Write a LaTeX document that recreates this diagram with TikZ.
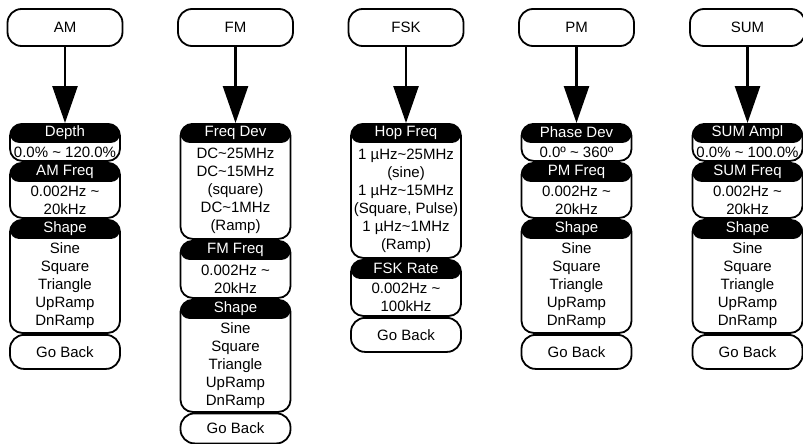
\documentclass[tikz,border=0pt]{standalone}
\usepackage{fontspec}
\setmainfont{Liberation Sans}
\usetikzlibrary{arrows.meta}

\begin{document}
\begin{tikzpicture}[x=1pt, y=-1pt,
	every node/.style = {font=\fontsize{15}{18}\selectfont, align=center},
	modebox/.style = {draw, line width=1.8pt, rounded corners=14pt,
		minimum width=115pt, minimum height=37pt},
	panel/.style = {draw, line width=1.8pt, rounded corners=12pt,
		minimum width=110pt, anchor=north, inner sep=0pt,
		path picture={\fill[rounded corners=9pt]
			([yshift=2pt]path picture bounding box.north west) rectangle
			([yshift=-19pt]path picture bounding box.north east);}},
	backbox/.style = {draw, line width=1.8pt, rounded corners=14pt,
		minimum width=110pt, anchor=north},
	headtext/.style = {text=white, inner sep=0pt},
	feedarrow/.style = {line width=2.6pt, -{Triangle[length=37pt, width=25pt]}}]
	\useasboundingbox (0,0) rectangle (803,444);

	% modes
	\node[modebox] (am) at (65,27.5) {AM};
	\node[modebox] (fm) at (235.5,27.5) {FM};
	\node[modebox] (fsk) at (406,27.5) {FSK};
	\node[modebox] (pm) at (576.5,27.5) {PM};
	\node[modebox] (sum) at (747.5,27.5) {SUM};

	% AM
	\node[panel, minimum height=37pt] (amDepth) at (65,123) {};
	\node[headtext] at ([yshift=-9.5pt]amDepth.north) {Depth};
	\node at ([yshift=-9.5pt]amDepth.center) {0.0\% \textasciitilde\ 120.0\%};
	\node[panel, minimum height=55pt] (amFreq) at (65,162) {};
	\node[headtext] at ([yshift=-9.5pt]amFreq.north) {AM Freq};
	\node at ([yshift=-9.5pt]amFreq.center) {0.002Hz \textasciitilde\\20kHz};
	\node[panel, minimum height=113pt] (amShape) at (65,219) {};
	\node[headtext] at ([yshift=-9.5pt]amShape.north) {Shape};
	\node at ([yshift=-9.5pt]amShape.center) {Sine\\Square\\Triangle\\UpRamp\\DnRamp};
	\node[backbox, minimum height=34pt] (amBack) at (65,334) {Go Back};

	% FM
	\node[panel, minimum height=115pt] (fmDev) at (235.5,123) {};
	\node[headtext] at ([yshift=-9.5pt]fmDev.north) {Freq Dev};
	\node at ([yshift=-9.5pt]fmDev.center) {DC\textasciitilde 25MHz\\DC\textasciitilde 15MHz\\(square)\\DC\textasciitilde 1MHz\\(Ramp)};
	\node[panel, minimum height=57pt] (fmFreq) at (235.5,240) {};
	\node[headtext] at ([yshift=-9.5pt]fmFreq.north) {FM Freq};
	\node at ([yshift=-9.5pt]fmFreq.center) {0.002Hz \textasciitilde\\20kHz};
	\node[panel, minimum height=112pt] (fmShape) at (235.5,299) {};
	\node[headtext] at ([yshift=-9.5pt]fmShape.north) {Shape};
	\node at ([yshift=-9.5pt]fmShape.center) {Sine\\Square\\Triangle\\UpRamp\\DnRamp};
	\node[backbox, minimum height=30pt] (fmBack) at (235.5,412.5) {Go Back};

	% FSK
	\node[panel, minimum height=134pt] (fskHop) at (406,123) {};
	\node[headtext] at ([yshift=-9.5pt]fskHop.north) {Hop Freq};
	\node at ([yshift=-9.5pt]fskHop.center) {1 µHz\textasciitilde 25MHz\\(sine)\\1 µHz\textasciitilde 15MHz\\(Square, Pulse)\\1 µHz\textasciitilde 1MHz\\(Ramp)};
	\node[panel, minimum height=56pt] (fskRate) at (406,259) {};
	\node[headtext] at ([yshift=-9.5pt]fskRate.north) {FSK Rate};
	\node at ([yshift=-9.5pt]fskRate.center) {0.002Hz \textasciitilde\\100kHz};
	\node[backbox, minimum height=34pt] (fskBack) at (406,317) {Go Back};

	% PM
	\node[panel, minimum height=37pt] (pmDev) at (576.5,123) {};
	\node[headtext] at ([yshift=-9.5pt]pmDev.north) {Phase Dev};
	\node at ([yshift=-9.5pt]pmDev.center) {0.0º \textasciitilde\ 360º};
	\node[panel, minimum height=55pt] (pmFreq) at (576.5,162) {};
	\node[headtext] at ([yshift=-9.5pt]pmFreq.north) {PM Freq};
	\node at ([yshift=-9.5pt]pmFreq.center) {0.002Hz \textasciitilde\\20kHz};
	\node[panel, minimum height=113pt] (pmShape) at (576.5,219) {};
	\node[headtext] at ([yshift=-9.5pt]pmShape.north) {Shape};
	\node at ([yshift=-9.5pt]pmShape.center) {Sine\\Square\\Triangle\\UpRamp\\DnRamp};
	\node[backbox, minimum height=34pt] (pmBack) at (576.5,334) {Go Back};

	% SUM
	\node[panel, minimum height=37pt] (sumAmpl) at (747.5,123) {};
	\node[headtext] at ([yshift=-9.5pt]sumAmpl.north) {SUM Ampl};
	\node at ([yshift=-9.5pt]sumAmpl.center) {0.0\% \textasciitilde\ 100.0\%};
	\node[panel, minimum height=55pt] (sumFreq) at (747.5,162) {};
	\node[headtext] at ([yshift=-9.5pt]sumFreq.north) {SUM Freq};
	\node at ([yshift=-9.5pt]sumFreq.center) {0.002Hz \textasciitilde\\20kHz};
	\node[panel, minimum height=113pt] (sumShape) at (747.5,219) {};
	\node[headtext] at ([yshift=-9.5pt]sumShape.north) {Shape};
	\node at ([yshift=-9.5pt]sumShape.center) {Sine\\Square\\Triangle\\UpRamp\\DnRamp};
	\node[backbox, minimum height=34pt] (sumBack) at (747.5,334) {Go Back};

	\draw[feedarrow] (am) -- (amDepth);
	\draw[feedarrow] (fm) -- (fmDev);
	\draw[feedarrow] (fsk) -- (fskHop);
	\draw[feedarrow] (pm) -- (pmDev);
	\draw[feedarrow] (sum) -- (sumAmpl);
\end{tikzpicture}
\end{document}
